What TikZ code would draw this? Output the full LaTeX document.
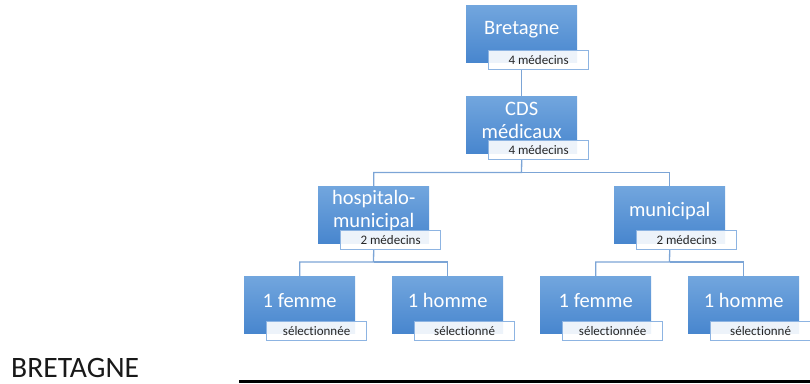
\documentclass[tikz,border=0pt]{standalone}
\usepackage{fontspec}
\setmainfont[Ligatures={NoCommon}]{Carlito}
\definecolor{boxtop}{RGB}{114,166,222}
\definecolor{boxbot}{RGB}{72,134,206}
\definecolor{lblborder}{RGB}{141,180,226}
\definecolor{connc}{RGB}{124,165,214}
\tikzset{
  orgbox/.style={draw=none, top color=boxtop, bottom color=boxbot, minimum width=111pt, minimum height=57pt, inner sep=0pt, anchor=north west},
  boxtxt/.style={text=white, font=\fontsize{20.5}{23}\selectfont, align=center, inner sep=0pt},
  lblbox/.style={draw=lblborder, line width=1.2pt, fill=white, fill opacity=0.9, text opacity=1, minimum width=100pt, minimum height=19pt, inner sep=0pt, anchor=north west, font=\fontsize{13}{15}\selectfont, text=black!85},
  conn/.style={draw=connc, line width=1.3pt},
}
\begin{document}
\begin{tikzpicture}[x=1pt,y=-1pt]
\useasboundingbox (0,0) rectangle (810,383);
% boxes
\node[orgbox] (b1) at (466,5) {};
\node[orgbox] (b2) at (466,96) {};
\node[orgbox] (b3) at (318,186) {};
\node[orgbox] (b4) at (614,186) {};
\node[orgbox] (b5) at (244,276) {};
\node[orgbox] (b6) at (392,276) {};
\node[orgbox] (b7) at (540,276) {};
\node[orgbox] (b8) at (688,276) {};
% texts
\node[boxtxt] (t1) at ([yshift=4pt]b1.center) {Bretagne};
\node[boxtxt] (t2) at ([yshift=4pt]b2.center) {CDS\\médicaux};
\node[boxtxt] (t3) at ([yshift=4pt]b3.center) {hospitalo-\\municipal};
\node[boxtxt] (t4) at ([yshift=4pt]b4.center) {municipal};
\node[boxtxt] (t5) at ([yshift=4pt]b5.center) {1 femme};
\node[boxtxt] (t6) at ([yshift=4pt]b6.center) {1 homme};
\node[boxtxt] (t7) at ([yshift=4pt]b7.center) {1 femme};
\node[boxtxt] (t8) at ([yshift=4pt]b8.center) {1 homme};
% labels
\node[lblbox] (l1) at (488,50) {4 médecins};
\node[lblbox] (l2) at (488,140) {4 médecins};
\node[lblbox] (l3) at (340,230) {2 médecins};
\node[lblbox] (l4) at (636,230) {2 médecins};
\node[lblbox] (l5) at (266,321) {sélectionnée};
\node[lblbox] (l6) at (414,321) {sélectionné};
\node[lblbox] (l7) at (562,321) {sélectionnée};
\node[lblbox] (l8) at (710,321) {sélectionné};
% connectors
\coordinate (j2) at (521.5,172.5);
\coordinate (j3) at (373.5,262);
\coordinate (j4) at (669.5,262);
\draw[conn] (b1.center |- l1.south) -- (b2.north);
\draw[conn] (b2.center |- l2.south) -- (j2) -| (b3.north);
\draw[conn] (j2) -| (b4.north);
\draw[conn] (b3.center |- l3.south) -- (j3) -| (b5.north);
\draw[conn] (j3) -| (b6.north);
\draw[conn] (b4.center |- l4.south) -- (j4) -| (b7.north);
\draw[conn] (j4) -| (b8.north);
% title and rule
\node[anchor=base west, inner sep=0pt, font=\fontsize{29.6}{34}\selectfont, text=black!90] (title) at (11,377) {BRETAGNE};
\coordinate (r1) at (239,381.5);
\coordinate (r2) at (810,381.5);
\draw[line width=3.5pt, black] (r1) -- (r2);
\end{tikzpicture}
\end{document}
